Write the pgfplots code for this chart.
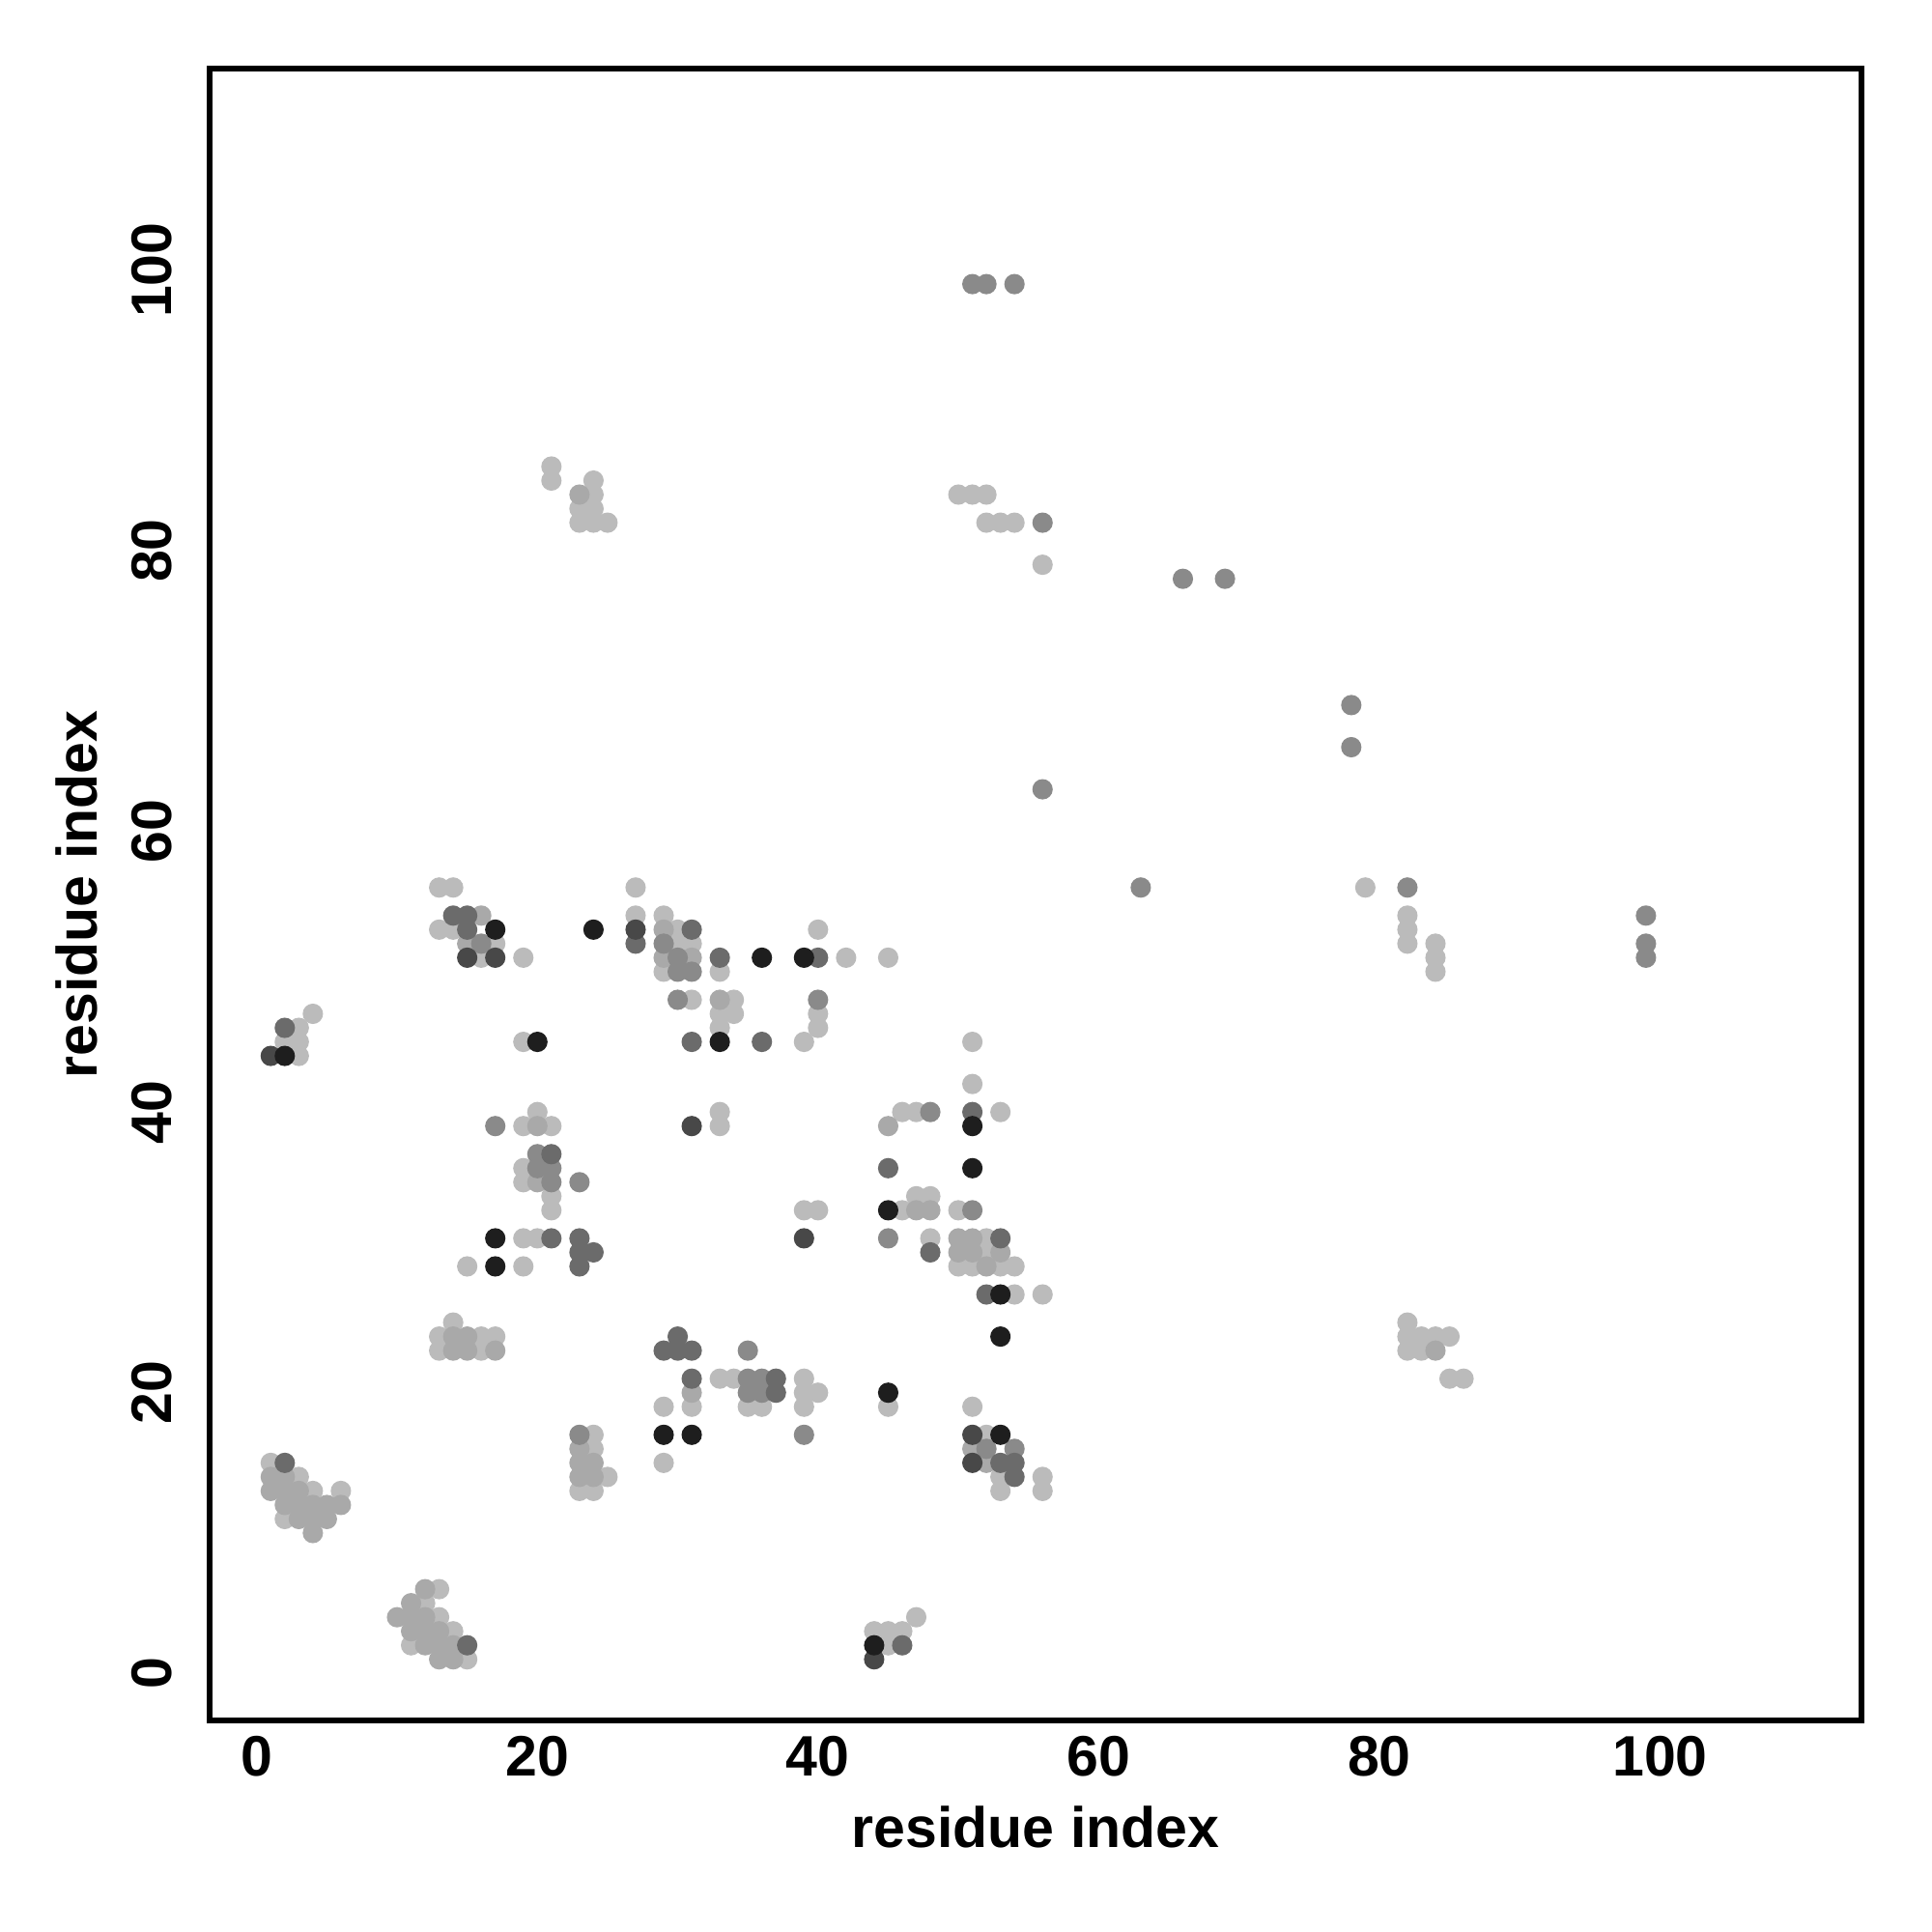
\documentclass[border=0pt]{standalone}
\usepackage{fontspec}
\setmainfont{Liberation Sans}
\usepackage{pgfplots}
\pgfplotsset{compat=1.18}
\definecolor{cL}{HTML}{BBBBBB}
\definecolor{cLM}{HTML}{A9A9A9}
\definecolor{cM}{HTML}{8A8A8A}
\definecolor{cD}{HTML}{6B6B6B}
\definecolor{cDD}{HTML}{484848}
\definecolor{cB}{HTML}{1E1E1E}
\begin{document}
\begin{tikzpicture}
\useasboundingbox (-2.17cm,-2.18cm) rectangle (17.835cm,17.815cm);
\begin{axis}[
  anchor=south west, at={(0,0)},
  width=17.105cm, height=17.105cm, scale only axis,
  xmin=-3.36, xmax=114.36, ymin=-3.36, ymax=114.36,
  axis line style={line width=1.6pt},
  xtick={0,20,40,60,80,100}, ytick={0,20,40,60,80,100},
  major tick length=0pt,
  /pgf/number format/assume math mode=true,
  ticklabel style={font=\bfseries\fontsize{16.8}{20}\selectfont, inner sep=0pt},
  xticklabel style={anchor=north},
  xticklabel shift=0.16cm,
  yticklabel style={rotate=90, anchor=south},
  yticklabel shift=0.38cm,
  xlabel={residue index}, ylabel={residue index},
  label style={font=\bfseries\fontsize{16.8}{20}\selectfont},
  xlabel style={at={(axis description cs:0.5,-0.0643)}, anchor=center},
  ylabel style={at={(axis description cs:-0.0807,0.5)}, anchor=center},
  every axis plot/.append style={only marks, mark=*, mark size=2.8pt},
]
\addplot[cL, mark options={draw=none, fill=cL}] coordinates {
(1,15)(3,14)(4,13)(6,13)(2,11)
(13,6)(12,5)(13,4)(14,3)(11,2)(15,1)
(47,4)(44,3)(45,3)(46,3)(45,2)
(24,17)(24,16)(25,14)(23,13)(24,13)
(33,21)(34,21)(39,21)(39,20)(40,20)(29,19)(31,19)(35,19)(36,19)(39,19)(29,15)
(45,19)(51,19)(52,17)(53,14)(56,14)(53,13)(56,13)
(14,25)(13,24)(16,24)(17,24)(13,23)(16,23)
(82,25)(82,24)(83,24)(84,24)(85,24)(82,23)(83,23)(85,21)(86,21)
(20,40)(19,39)(21,39)(19,36)(19,35)(21,34)(21,33)(19,31)(20,31)(15,29)(19,29)
(33,40)(33,39)(39,33)(40,33)
(51,42)(46,40)(47,40)(53,40)(47,34)(48,34)(46,33)(50,33)(48,31)(52,31)(52,30)
(50,29)(51,29)(53,29)(54,29)(54,27)(56,27)
(3,44)(2,45)(3,45)(3,46)(4,47)(19,45)
(13,56)(14,56)(13,53)(14,53)(17,52)(16,51)(19,51)
(27,56)(27,54)(29,54)(30,53)(30,52)(31,52)(29,50)(31,48)(33,50)
(34,48)(33,47)(34,47)(33,46)(42,51)(45,51)(40,53)(40,47)(40,46)(39,45)(51,45)
(79,56)(82,54)(82,53)(82,52)(84,52)(84,51)(84,50)
(21,86)(21,85)(24,85)(24,84)(23,83)(24,83)(23,82)(24,82)(25,82)
(50,84)(51,84)(52,84)(52,82)(53,82)(54,82)(56,79)
};
\addplot[cLM, mark options={draw=none, fill=cLM}] coordinates {
(1,14)(2,14)(1,13)(2,13)(3,13)(2,12)(3,12)(4,12)(5,12)(6,12)(3,11)(4,11)(5,11)(4,10)
(12,6)(11,5)(10,4)(11,4)(12,4)(11,3)(12,3)(13,3)(12,2)(13,2)(14,2)(13,1)(14,1)
(23,16)(23,15)(24,15)(23,14)(24,14)
(31,20)(51,16)(52,15)
(14,24)(15,24)(14,23)(15,23)(17,23)(84,23)
(20,39)(20,35)
(45,39)(47,33)(48,33)(50,31)(51,31)(50,30)(51,30)(53,30)(52,29)
(15,52)(16,54)
(29,53)(29,51)(31,51)(33,48)
(23,84)
};
\addplot[cM, mark options={draw=none, fill=cM}] coordinates {
(23,17)(35,23)(35,21)(36,21)(35,20)(36,20)(39,17)(52,16)(54,16)
(17,39)(20,37)(20,36)(21,36)(21,35)(23,35)
(48,40)(51,33)(45,31)
(16,52)(29,52)(30,51)(30,50)(31,50)(30,48)(40,48)
(63,56)(82,56)(99,54)(99,52)(99,51)(56,63)(78,69)(78,66)
(56,82)(66,78)(69,78)(51,99)(52,99)(54,99)
};
\addplot[cD, mark options={draw=none, fill=cD}] coordinates {
(2,15)(15,2)(46,2)
(30,24)(29,23)(30,23)(31,23)(31,21)(37,21)(37,20)
(53,15)(54,15)(54,14)
(21,37)(21,31)(23,31)(23,30)(24,30)(23,29)
(51,40)(45,36)(53,31)(48,30)(52,27)
(2,46)(14,54)(15,54)(15,53)
(31,53)(27,52)(33,51)(40,51)(31,45)(36,45)
};
\addplot[cDD, mark options={draw=none, fill=cDD}] coordinates {
(44,1)(51,17)(51,15)(31,39)(39,31)(1,44)(15,51)(17,51)(27,53)
};
\addplot[cB, mark options={draw=none, fill=cB}] coordinates {
(44,2)(29,17)(31,17)(45,20)(53,17)(53,24)
(17,31)(17,29)(51,39)(51,36)(45,33)(53,27)
(2,44)(20,45)(17,53)(24,53)(36,51)(39,51)(33,45)
};
\end{axis}
\end{tikzpicture}
\end{document}
